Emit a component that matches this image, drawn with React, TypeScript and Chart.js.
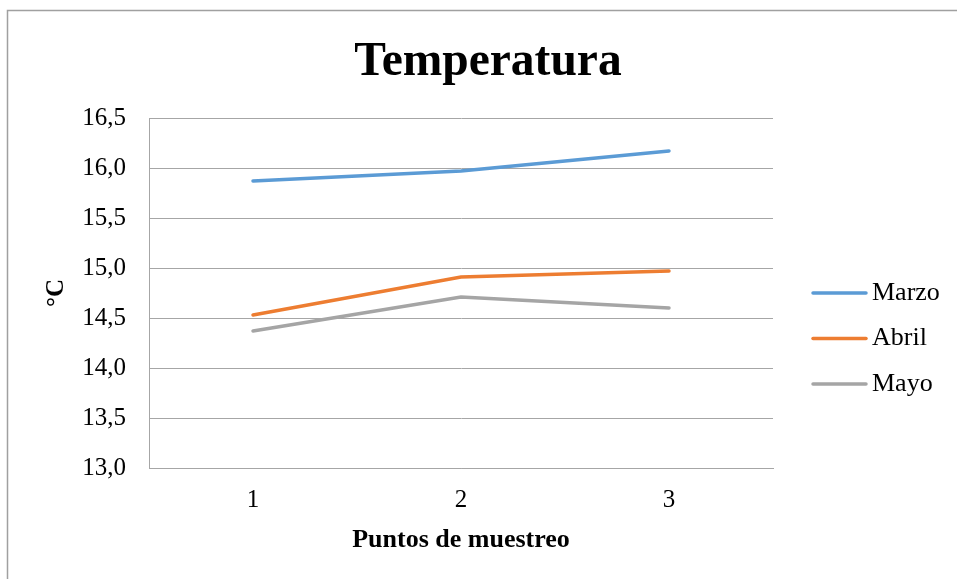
import React, { useEffect, useRef } from "react";
import { Chart, registerables } from "chart.js";

Chart.register(...registerables);

const categories = ["1", "2", "3"];
const seriesNames = ["Marzo", "Abril", "Mayo"];
const marzo = [15.87, 15.97, 16.17];
const abril = [14.53, 14.91, 14.97];
const mayo = [14.37, 14.71, 14.6];
const colors = ["#5B9BD5", "#ED7D31", "#A5A5A5"];
const yMin = 13;
const yMax = 16.5;
const yStep = 0.5;
const chartTitle = "Temperatura";
const xTitle = "Puntos de muestreo";
const yTitle = "°C";

const SERIF = "'Liberation Serif', 'Times New Roman', serif";

const frame = {
  id: "frame",
  beforeDraw(chart: any) {
    const ctx = chart.ctx;
    ctx.save();
    ctx.fillStyle = "#ffffff";
    ctx.fillRect(0, 0, chart.width, chart.height);
    ctx.strokeStyle = "#a0a0a0";
    ctx.lineWidth = 1.5;
    ctx.strokeRect(7.5, 10.5, 3000, 3000);
    ctx.restore();
  },
};

const titlePlugin = {
  id: "titlePlugin",
  afterDraw(chart: any) {
    const ctx = chart.ctx;
    ctx.save();
    ctx.font = `bold 47.5px ${SERIF}`;
    ctx.fillStyle = "#000";
    ctx.textAlign = "center";
    ctx.textBaseline = "alphabetic";
    ctx.fillText(chartTitle, 488, 75);
    ctx.restore();
  },
};

const customLegend = {
  id: "customLegend",
  afterDraw(chart: any) {
    const ctx = chart.ctx;
    const ds = chart.data.datasets;
    ctx.save();
    const x0 = 813;
    const x1 = 866;
    const yStart = 293;
    const gap = 45.5;
    ctx.font = `26px ${SERIF}`;
    ctx.textBaseline = "middle";
    ctx.textAlign = "left";
    ds.forEach((d: any, i: number) => {
      const y = yStart + i * gap;
      ctx.strokeStyle = d.borderColor;
      ctx.lineWidth = 3.5;
      ctx.lineCap = "round";
      ctx.beginPath();
      ctx.moveTo(x0, y);
      ctx.lineTo(x1, y);
      ctx.stroke();
      ctx.fillStyle = "#000";
      ctx.fillText(d.label, x1 + 6, y);
    });
    ctx.restore();
  },
};

export default function App() {
  const ref = useRef<HTMLCanvasElement | null>(null);
  useEffect(() => {
    document.body.style.margin = "0";
    const canvas = ref.current;
    if (!canvas) return;
    const values = [marzo, abril, mayo];
    const chart = new Chart(canvas, {
      type: "line",
      data: {
        labels: categories,
        datasets: seriesNames.map((name, i) => ({
          label: name,
          data: values[i],
          borderColor: colors[i],
          backgroundColor: colors[i],
          borderWidth: 3.5,
          pointRadius: 0,
          tension: 0,
          borderCapStyle: "round",
        })),
      } as any,
      options: {
        animation: false,
        responsive: false,
        devicePixelRatio: 1,
        layout: { padding: { left: 0, right: 184, top: 118, bottom: 0 } },
        plugins: {
          legend: { display: false },
          tooltip: { enabled: false },
          title: { display: false },
        },
        scales: {
          x: {
            type: "category",
            offset: true,
            grid: { display: false, drawTicks: false },
            border: { display: true, color: "#a6a6a6", width: 1 },
            ticks: {
              color: "#000",
              font: { family: SERIF, size: 25, lineHeight: 1.2 },
              padding: 17,
              maxRotation: 0,
            },
            title: {
              display: true,
              text: xTitle,
              color: "#000",
              font: { family: SERIF, size: 26, weight: "bold", lineHeight: 1.2 },
              padding: { top: 0, bottom: 23 },
            },
            afterFit(scale: any) {
              scale.height = 111;
            },
          },
          y: {
            min: yMin,
            max: yMax,
            grid: { color: "#a6a6a6", lineWidth: 1, drawTicks: false },
            border: { display: true, color: "#a6a6a6", width: 1 },
            ticks: {
              stepSize: yStep,
              color: "#000",
              font: { family: SERIF, size: 25 },
              padding: 23,
              callback: (v: any) => Number(v).toFixed(1).replace(".", ","),
            },
            title: {
              display: true,
              text: yTitle,
              color: "#000",
              font: { family: SERIF, size: 25, weight: "bold", lineHeight: 1.2 },
              padding: { top: 42, bottom: 0 },
            },
            afterFit(scale: any) {
              scale.width = 149;
            },
          },
        },
      } as any,
      plugins: [frame, titlePlugin, customLegend],
    });
    return () => chart.destroy();
  }, []);
  return (
    <div style={{ position: "absolute", left: 0, top: 0, width: 957, height: 579 }}>
      <canvas ref={ref} width={957} height={579} />
    </div>
  );
}
